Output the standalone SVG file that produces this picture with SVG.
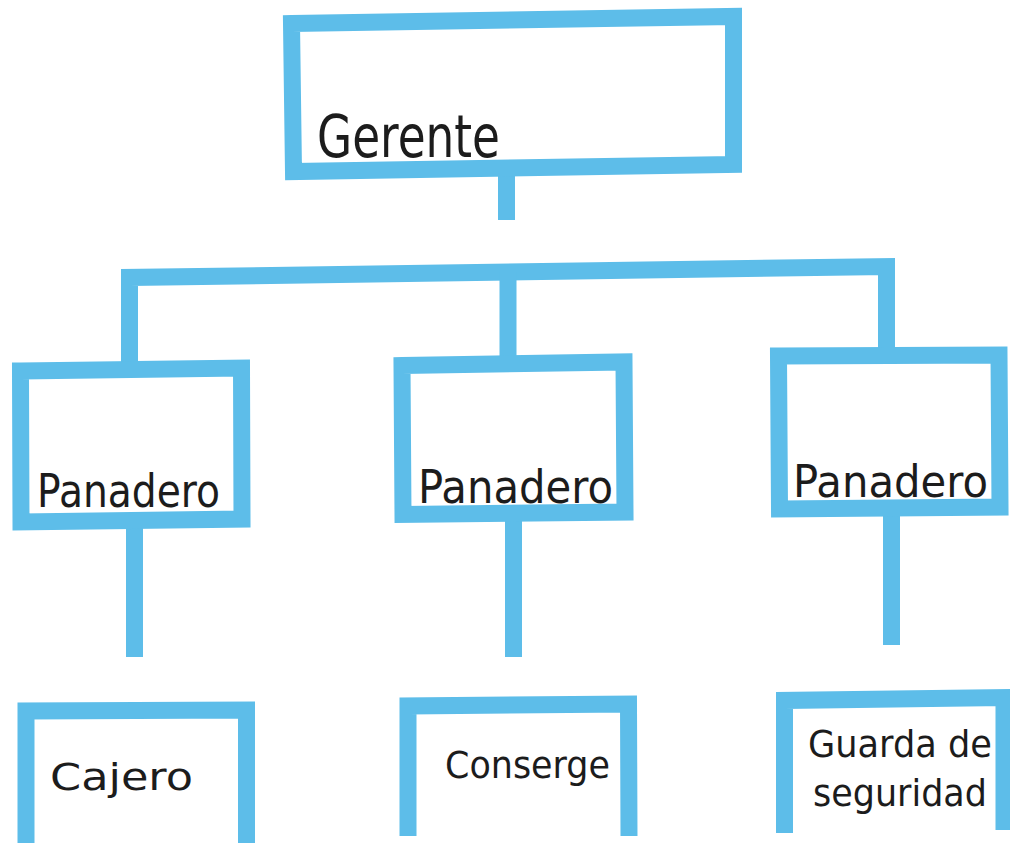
<svg xmlns="http://www.w3.org/2000/svg" width="1010" height="843" viewBox="0 0 1010 843">
<style>
.box{fill:none;stroke:#5dbde9;stroke-width:17;stroke-linejoin:miter}
.conn{fill:none;stroke:#5dbde9;stroke-width:17;stroke-linejoin:miter;stroke-linecap:butt}
.lbl{font-family:"DejaVu Sans","Liberation Sans",sans-serif;fill:#1c1c1c;font-weight:normal}
</style>
<rect x="0" y="0" width="1010" height="843" fill="#ffffff"/>
<g id="connectors">
<path class="conn" d="M506.5,174 L506.5,220"/>
<path class="conn" d="M129.5,364 L129.5,277.5 L886.5,266.5 L886.5,350"/>
<path class="conn" d="M508,272 L508,358"/>
<path class="conn" d="M134.5,524 L134.5,657"/>
<path class="conn" d="M513.5,514 L513.5,657"/>
<path class="conn" d="M891.5,510 L891.5,645"/>
</g>
<g id="node-gerente">
<path class="box" d="M291.5,23.5 L733.5,16.5 L733.5,164.5 L293.5,171.5 Z"/>
<text class="lbl" x="317" y="157" font-size="58" textLength="183" lengthAdjust="spacingAndGlyphs">Gerente</text>
</g>
<g id="node-panadero-1">
<path class="box" d="M20.5,371 L241.5,368 L242,519 L21,522 Z"/>
<text class="lbl" x="37" y="507" font-size="46" textLength="183" lengthAdjust="spacingAndGlyphs">Panadero</text>
</g>
<g id="node-panadero-2">
<path class="box" d="M402,365.5 L624,362 L625,512 L403,514.5 Z"/>
<text class="lbl" x="418" y="503" font-size="46" textLength="195" lengthAdjust="spacingAndGlyphs">Panadero</text>
</g>
<g id="node-panadero-3">
<path class="box" d="M778.5,356 L999,355 L1000,507 L779.5,509 Z"/>
<text class="lbl" x="793" y="497" font-size="44" textLength="195" lengthAdjust="spacingAndGlyphs">Panadero</text>
</g>
<g id="node-cajero">
<path class="box" d="M26,843 L26,711 L246.5,710 L246.5,843"/>
<text class="lbl" x="50" y="790" font-size="38" textLength="143" lengthAdjust="spacingAndGlyphs">Cajero</text>
</g>
<g id="node-conserge">
<path class="box" d="M408,836 L408,706 L628.5,704 L629,836"/>
<text class="lbl" x="445" y="778" font-size="38" textLength="165" lengthAdjust="spacingAndGlyphs">Conserge</text>
</g>
<g id="node-guarda">
<path class="box" d="M784.5,833 L784.5,700.5 L1004,697.5 L1004,830"/>
<text class="lbl" x="808" y="757" font-size="38" textLength="184" lengthAdjust="spacingAndGlyphs">Guarda de</text>
<text class="lbl" x="813" y="806" font-size="38" textLength="174" lengthAdjust="spacingAndGlyphs">seguridad</text>
</g>
</svg>
